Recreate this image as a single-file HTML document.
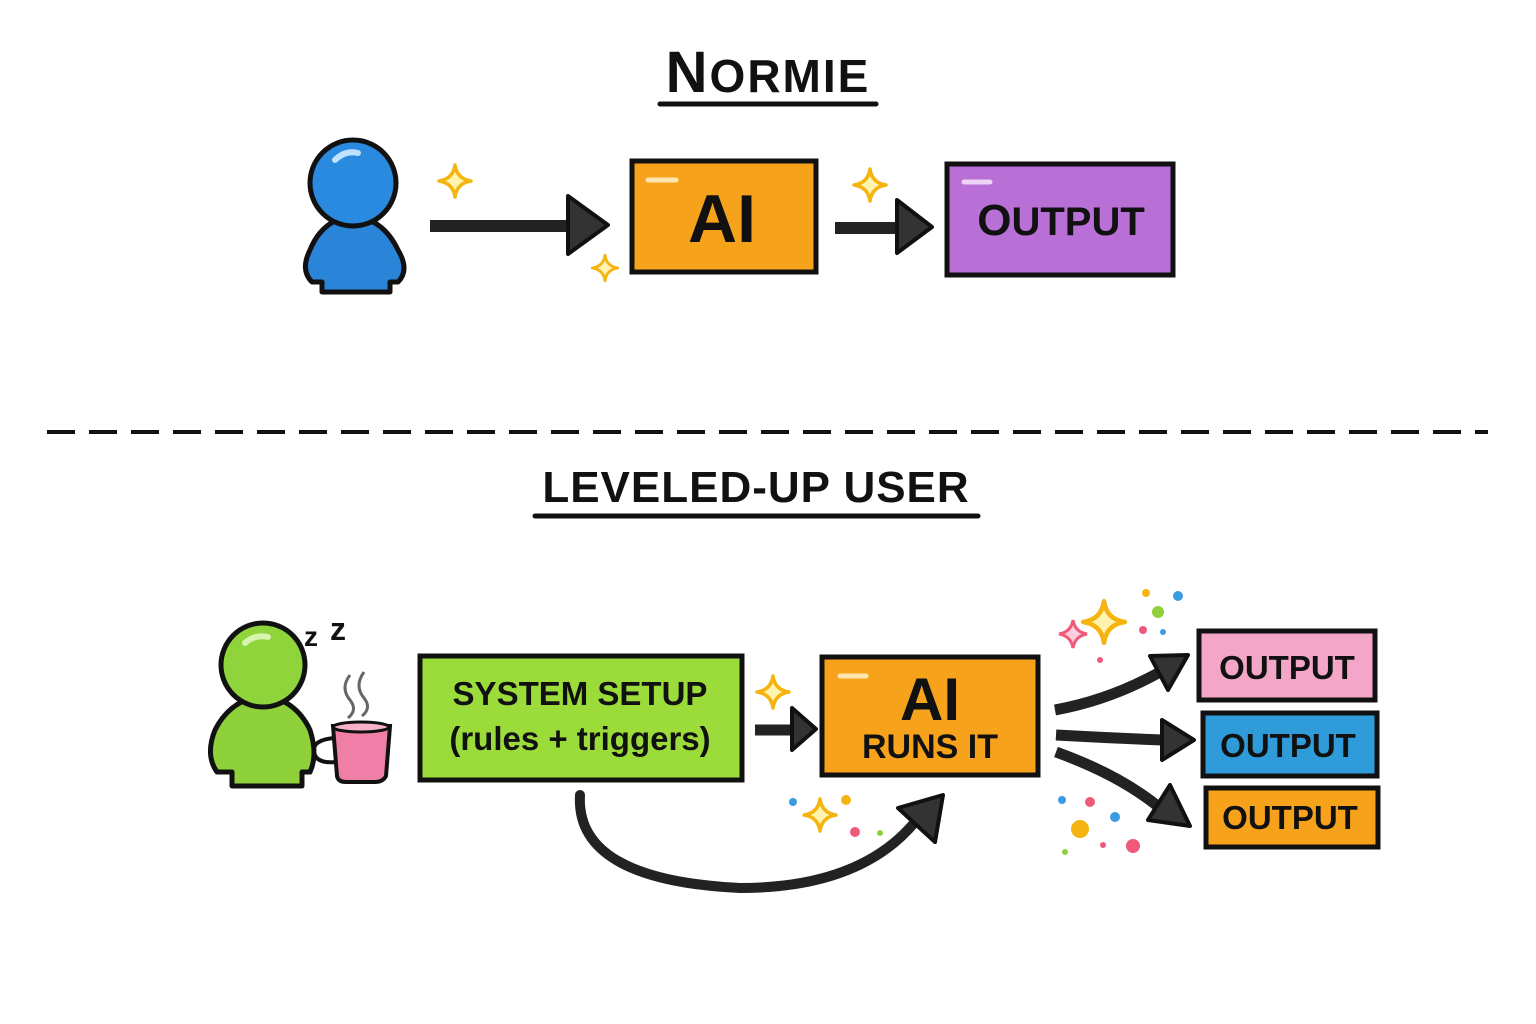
<!DOCTYPE html>
<html><head><meta charset="utf-8"><style>
html,body{margin:0;padding:0;background:#fff;}
svg{display:block;}
text{font-family:"Liberation Sans",sans-serif;font-weight:bold;fill:#111;}
</style></head><body>
<svg width="1536" height="1024" viewBox="0 0 1536 1024" xmlns="http://www.w3.org/2000/svg">
<defs>
<g id="spark"><path d="M0,-16 Q2,-2 16,0 Q2,2 0,16 Q-2,2 -16,0 Q-2,-2 0,-16Z" fill="#fff3b0" stroke="#f5b40f" stroke-width="3.5" stroke-linejoin="round"/></g>
</defs>
<rect width="1536" height="1024" fill="#fff"/>

<text x="768" y="92" text-anchor="middle" font-size="58" letter-spacing="2">N<tspan font-size="46">ORMIE</tspan></text>
<line x1="660" y1="104" x2="876" y2="104" stroke="#111" stroke-width="5" stroke-linecap="round"/>

<path d="M312,282 Q300,270 310,250 Q322,220 353,215 Q384,220 398,250 Q410,270 398,282 L390,282 L390,292 L322,292 L322,282Z" fill="#2a84d8" stroke="#111" stroke-width="5" stroke-linejoin="round"/>
<circle cx="353" cy="183" r="43" fill="#2a8ae0" stroke="#111" stroke-width="5"/>
<path d="M335,160 Q345,150 358,153" stroke="#bfe3ff" stroke-width="6" fill="none" stroke-linecap="round"/>

<line x1="430" y1="226" x2="572" y2="226" stroke="#222" stroke-width="12"/>
<path d="M568,196 L608,225 L568,254Z" fill="#333" stroke="#111" stroke-width="4" stroke-linejoin="round"/>
<use href="#spark" x="455" y="181"/>
<use href="#spark" x="605" y="268" transform="translate(605,268) scale(0.8) translate(-605,-268)"/>

<rect x="632" y="161" width="184" height="111" fill="#f7a21b" stroke="#111" stroke-width="5"/>
<line x1="648" y1="180" x2="676" y2="180" stroke="#fde6b0" stroke-width="5" stroke-linecap="round"/>
<text x="722" y="242" text-anchor="middle" font-size="68">AI</text>

<line x1="835" y1="228" x2="900" y2="228" stroke="#222" stroke-width="12"/>
<path d="M897,200 L932,227 L897,253Z" fill="#333" stroke="#111" stroke-width="4" stroke-linejoin="round"/>
<use href="#spark" x="870" y="185"/>

<rect x="947" y="164" width="226" height="111" fill="#b86fd6" stroke="#111" stroke-width="5"/>
<line x1="964" y1="182" x2="990" y2="182" stroke="#ecd3f7" stroke-width="5" stroke-linecap="round"/>
<text x="1061" y="235" text-anchor="middle" font-size="44">O<tspan font-size="40">UTPUT</tspan></text>

<line x1="47" y1="432" x2="1488" y2="432" stroke="#111" stroke-width="4" stroke-dasharray="28,14"/>

<text x="756" y="502" text-anchor="middle" font-size="44" letter-spacing="1">LEVELED-UP USER</text>
<line x1="535" y1="516" x2="978" y2="516" stroke="#111" stroke-width="5" stroke-linecap="round"/>

<path d="M217,772 Q205,755 215,730 Q230,700 263,695 Q296,700 310,730 Q318,755 310,772 L302,772 L302,786 L232,786 L232,772Z" fill="#8fd13a" stroke="#111" stroke-width="5" stroke-linejoin="round"/>
<circle cx="263" cy="665" r="42" fill="#8fd43a" stroke="#111" stroke-width="5"/>
<path d="M245,643 Q255,634 268,637" stroke="#d8f5b0" stroke-width="6" fill="none" stroke-linecap="round"/>
<text x="304" y="646" font-size="28">z</text><text x="330" y="640" font-size="32">z</text>
<path d="M350,675 Q340,688 350,700 Q358,710 348,718" stroke="#666" stroke-width="3" fill="none"/>
<path d="M364,672 Q354,686 364,698 Q372,708 362,716" stroke="#666" stroke-width="3" fill="none"/>
<path d="M333,726 L390,726 L386,776 Q383,782 375,782 L346,782 Q338,782 337,776Z" fill="#ef7fa6" stroke="#111" stroke-width="4"/>
<ellipse cx="361" cy="727" rx="28" ry="5" fill="#f7b2c8" stroke="#111" stroke-width="3"/>
<path d="M334,738 Q312,740 314,752 Q316,764 336,762" stroke="#111" stroke-width="4" fill="none"/>

<rect x="420" y="656" width="322" height="124" fill="#9bdc3a" stroke="#111" stroke-width="5"/>
<text x="580" y="705" text-anchor="middle" font-size="33">SYSTEM SETUP</text>
<text x="580" y="750" text-anchor="middle" font-size="33" font-weight="normal">(rules + triggers)</text>

<line x1="755" y1="730" x2="796" y2="730" stroke="#222" stroke-width="11"/>
<path d="M792,708 L816,729 L792,750Z" fill="#333" stroke="#111" stroke-width="4" stroke-linejoin="round"/>
<use href="#spark" x="773" y="692"/>

<rect x="822" y="657" width="216" height="118" fill="#f7a21b" stroke="#111" stroke-width="5"/>
<line x1="840" y1="676" x2="866" y2="676" stroke="#fde6b0" stroke-width="5" stroke-linecap="round"/>
<text x="930" y="720" text-anchor="middle" font-size="60">AI</text>
<text x="930" y="758" text-anchor="middle" font-size="34">RUNS IT</text>

<path d="M580,795 Q575,880 740,888 Q860,888 915,822" stroke="#222" stroke-width="10" fill="none" stroke-linecap="round"/>
<path d="M898,808 L943,795 L935,842Z" fill="#333" stroke="#111" stroke-width="4" stroke-linejoin="round"/>
<use href="#spark" x="820" y="815"/>
<circle cx="793" cy="802" r="4" fill="#3a9be0"/><circle cx="846" cy="800" r="5" fill="#f5b40f"/>
<circle cx="855" cy="832" r="5" fill="#ef5a7a"/><circle cx="880" cy="833" r="3" fill="#8fd13a"/>

<path d="M1055,710 Q1110,700 1160,672" stroke="#222" stroke-width="11" fill="none"/>
<path d="M1150,656 L1188,655 L1168,690Z" fill="#333" stroke="#111" stroke-width="4" stroke-linejoin="round"/>
<path d="M1056,735 Q1110,738 1163,740" stroke="#222" stroke-width="11" fill="none"/>
<path d="M1162,720 L1194,740 L1162,760Z" fill="#333" stroke="#111" stroke-width="4" stroke-linejoin="round"/>
<path d="M1056,752 Q1120,775 1160,808" stroke="#222" stroke-width="11" fill="none"/>
<path d="M1170,785 L1190,826 L1148,820Z" fill="#333" stroke="#111" stroke-width="4" stroke-linejoin="round"/>

<use href="#spark" x="1104" y="622" transform="translate(1104,622) scale(1.3) translate(-1104,-622)"/>
<path d="M1073,620 Q1075,632 1087,634 Q1075,636 1073,648 Q1071,636 1059,634 Q1071,632 1073,620Z" fill="#fbd0dc" stroke="#ef5a7a" stroke-width="3"/>
<circle cx="1146" cy="593" r="4" fill="#f5b40f"/><circle cx="1178" cy="596" r="5" fill="#3a9be0"/>
<circle cx="1158" cy="612" r="6" fill="#8fd13a"/><circle cx="1143" cy="630" r="4" fill="#ef5a7a"/>
<circle cx="1163" cy="632" r="3" fill="#3a9be0"/><circle cx="1100" cy="660" r="3" fill="#ef5a7a"/>
<circle cx="1062" cy="800" r="4" fill="#3a9be0"/><circle cx="1090" cy="802" r="5" fill="#ef5a7a"/>
<circle cx="1080" cy="829" r="9" fill="#f5b40f"/><circle cx="1115" cy="817" r="5" fill="#3a9be0"/>
<circle cx="1133" cy="846" r="7" fill="#ef5a7a"/><circle cx="1103" cy="845" r="3" fill="#ef5a7a"/>
<circle cx="1065" cy="852" r="3" fill="#8fd13a"/>

<rect x="1199" y="631" width="176" height="69" fill="#f3a6c8" stroke="#111" stroke-width="5"/>
<text x="1287" y="679" text-anchor="middle" font-size="33">OUTPUT</text>
<rect x="1203" y="713" width="174" height="63" fill="#2f9bd8" stroke="#111" stroke-width="5"/>
<text x="1288" y="757" text-anchor="middle" font-size="33">OUTPUT</text>
<rect x="1206" y="788" width="172" height="59" fill="#f7a21b" stroke="#111" stroke-width="5"/>
<text x="1290" y="829" text-anchor="middle" font-size="33">OUTPUT</text>
</svg>
</body></html>
